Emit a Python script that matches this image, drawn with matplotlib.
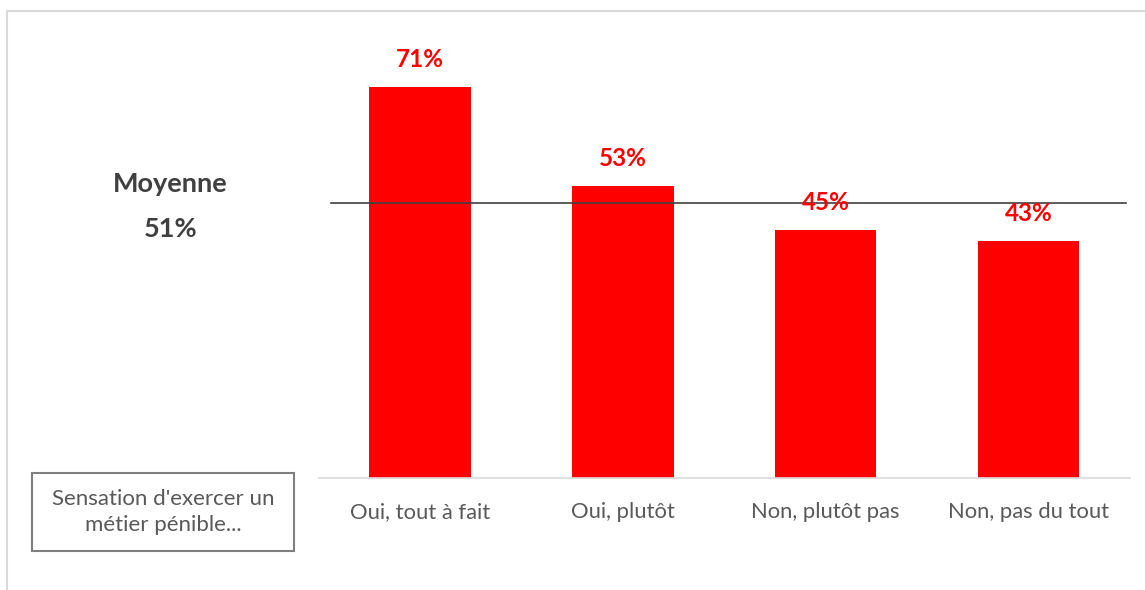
import matplotlib
matplotlib.use('Agg')
from matplotlib import pyplot as plt
from matplotlib.patches import Rectangle
from matplotlib.lines import Line2D

categories = ["Oui, tout à fait", "Oui, plutôt", "Non, plutôt pas", "Non, pas du tout"]
values = [71, 53, 45, 43]
mean_label = "51%"
mean_line = 50

plt.rcParams['font.family'] = ['Lato', 'DejaVu Sans']

fig = plt.figure(figsize=(11.45, 5.9), dpi=100)
W, H = 1145, 590

# outer frame (light gray): top and left only
fig.lines.append(Line2D([7 / W, 7 / W, 1], [0, 1 - 11 / H, 1 - 11 / H], transform=fig.transFigure,
                        color='#d9d9d9', linewidth=1.5))

ymax = 80
px_per = 5.51
bottom_px = 478
top_px = bottom_px - ymax * px_per
ax = fig.add_axes([318.5 / W, 1 - bottom_px / H, (1130 - 318.5) / W, (bottom_px - top_px) / H])

x = range(len(categories))
ax.bar(x, values, width=0.5, color='#ff0000')
ax.set_xlim(-0.5, len(categories) - 0.5)
ax.set_ylim(0, ymax)

for i, v in enumerate(values):
    ax.text(i, v + 5, f"{v}%", ha='center', va='center', color='#ff0000',
            fontsize=17.5, fontweight='bold')

ax.plot([-0.44, 3.48], [mean_line, mean_line], color='#404040', linewidth=1.2)

for s in ['top', 'right', 'left']:
    ax.spines[s].set_visible(False)
ax.spines['bottom'].set_color('#d9d9d9')
ax.spines['bottom'].set_linewidth(1.2)
ax.set_yticks([])
ax.set_xticks(list(x))
ax.set_xticklabels(categories, fontsize=15.8, color='#595959')
ax.tick_params(axis='x', length=0, pad=17)

fig.text(170 / W, 1 - 184 / H, "Moyenne", ha='center', va='center', fontsize=19.5,
         fontweight='bold', color='#404040')
fig.text(171 / W, 1 - 229 / H, mean_label, ha='center', va='center', fontsize=19.5,
         fontweight='bold', color='#404040')

fig.patches.append(Rectangle((32 / W, 1 - 551 / H), 262 / W, 78 / H, transform=fig.transFigure,
                             fill=False, edgecolor='#7f7f7f', linewidth=1.5))
fig.text(163 / W, 1 - 512 / H, "Sensation d'exercer un\nmétier pénible...", ha='center',
         va='center', fontsize=16, color='#595959', linespacing=1.4)

plt.savefig('out.png', dpi=100)
